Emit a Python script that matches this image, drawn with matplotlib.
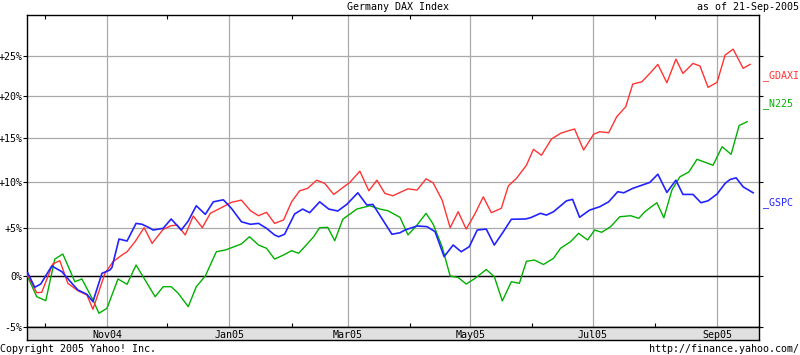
import matplotlib
matplotlib.use('Agg')
import matplotlib.pyplot as plt
import matplotlib.dates as mdates
import matplotlib.ticker as mticker
import numpy as np
import pandas as pd


# first day of the window, all series are % change from here
start = pd.Timestamp('2004-09-21')

# _GDAXI (red): days since start, % change
gdaxi_day = [1.5, 6, 8.5, 14, 17.5, 21.5, 26.5, 31, 34, 40, 44, 48.5, 51, 55, 59.5, 63.5,
             69, 73, 76, 80, 84, 88.5, 92.5, 98, 103, 108, 112.5, 116.5, 120.5, 124.5,
             129, 133, 137, 141, 145.5, 149.5, 154, 158, 162, 167, 171.5, 175.5, 179.5,
             183.5, 187, 191, 195.5, 200, 203.5, 208, 212, 216, 220, 224.5, 228.5, 232.5,
             237.5, 241, 245, 250, 253.5, 257.5, 262.5, 267, 271, 274, 278.5, 283.5,
             286.5, 291, 295, 299.5, 303, 307.5, 311.5, 315.5, 320, 324.5, 328, 333,
             336.5, 340.5, 345, 349, 353, 358, 361.5]
gdaxi_pct = [0.10, -1.68, -1.64, 1.23, 1.56, -0.74, -1.48, -1.91, -3.32, 0.27, 1.46, 2.15,
             2.49, 3.54, 5.02, 3.36, 4.84, 5.23, 5.30, 4.25, 6.27, 5.02, 6.56, 7.17, 7.75,
             8.00, 6.84, 6.30, 6.67, 5.48, 5.84, 7.81, 9.02, 9.29, 10.2, 9.84, 8.62, 9.29,
             9.95, 11.21, 9.02, 10.2, 8.73, 8.47, 8.84, 9.24, 9.10, 10.35, 9.91, 8.00, 5.02,
             6.73, 4.87, 6.56, 8.36, 6.63, 7.10, 9.57, 10.39, 11.88, 13.7, 13.02, 14.90,
             15.56, 15.87, 16.07, 13.62, 15.45, 15.75, 15.63, 17.52, 18.72, 21.48, 21.76,
             22.80, 23.93, 21.64, 24.59, 22.80, 24.05, 23.72, 21.08, 21.69, 25.10, 25.86,
             23.43, 23.93]

# _N225 (green)
n225_day = [1.5, 6, 10.5, 15, 19, 25, 28.5, 34, 37, 41, 46.5, 51, 55.5, 60, 65, 69, 73,
            76.5, 81.5, 85.5, 90, 95.5, 100, 108, 112, 116.5, 120.5, 124.5, 129, 133,
            136.5, 139.5, 144, 147, 151, 154.5, 158.5, 165.5, 172, 177, 181, 187, 191,
            195.5, 200, 203.5, 208, 212, 216, 220, 224.5, 230, 234, 238, 242.5, 246.5,
            250, 254, 258.5, 263.5, 267, 272, 276, 280.5, 284, 287.5, 292, 296.5, 302,
            306, 309, 315, 318.5, 322.5, 326.5, 331, 335, 343, 347.5, 352, 356, 360]
n225_pct = [-0.07, -2.08, -2.47, 1.73, 2.25, -0.58, -0.30, -2.40, -3.71, -3.22, -0.30,
            -0.84, 1.12, -0.41, -2.08, -1.08, -1.08, -1.74, -3.06, -1.08, 0.0, 2.49, 2.67,
            3.30, 4.06, 3.19, 2.85, 1.73, 2.15, 2.60, 2.33, 3.01, 4.06, 5.02, 5.06, 3.64,
            5.92, 7.02, 7.38, 7.02, 6.84, 6.13, 4.25, 5.30, 6.56, 5.41, 3.01, 0.0, -0.15,
            -0.81, -0.23, 0.66, -0.07, -2.50, -0.58, -0.74, 1.50, 1.63, 1.17, 1.81, 2.85,
            3.54, 4.42, 3.72, 4.77, 4.53, 5.13, 6.19, 6.30, 6.02, 6.73, 7.71, 6.08, 9.10,
            10.58, 11.13, 12.56, 11.88, 14.0, 13.13, 16.48, 16.93]

# _GSPC (blue)
gspc_day = [1.5, 5, 8, 13.5, 18.5, 23.5, 26.5, 31, 34, 38.5, 42.5, 43.5, 47, 51, 55.5,
            58.5, 62, 64, 69, 73, 78, 81.5, 85.5, 90, 94, 99, 103, 108, 112.5, 116.5,
            120.5, 124.5, 126.5, 129.5, 134.5, 138.5, 142, 147, 151.5, 156, 160.5, 166,
            170.5, 173.5, 183, 187, 189.5, 195.5, 200.5, 204.5, 209, 213.5, 217.5, 221.5,
            225.5, 230, 234, 238.5, 242.5, 249.5, 252, 257, 260, 263.5, 270, 273, 276.5,
            281.5, 286.5, 291, 295.5, 298.5, 303, 311.5, 315.5, 320, 324.5, 328, 333, 337,
            340.5, 345, 349, 351.5, 354.5, 358, 363]
gspc_pct = [0.33, -1.14, -0.81, 1.02, 0.44, -0.74, -1.41, -1.84, -2.57, 0.27, 0.61, 0.88,
            3.82, 3.61, 5.48, 5.38, 5.02, 4.77, 4.95, 5.95, 4.77, 5.73, 7.38, 6.45, 7.81,
            8.03, 7.10, 5.65, 5.38, 5.48, 4.95, 4.25, 4.06, 4.32, 6.49, 7.02, 6.63, 7.81,
            7.02, 6.81, 7.53, 8.80, 7.46, 7.53, 4.32, 4.48, 4.77, 5.20, 5.13, 4.59, 1.98,
            3.19, 2.49, 3.01, 4.77, 4.87, 3.19, 4.59, 5.92, 5.95, 6.08, 6.56, 6.37, 6.73,
            7.92, 8.08, 6.13, 6.91, 7.27, 7.81, 8.92, 8.80, 9.29, 9.95, 10.87, 8.84, 10.2,
            8.62, 8.62, 7.71, 7.92, 8.66, 9.84, 10.28, 10.46, 9.46, 8.80]

ytick_pct = [-5, 0, 5, 10, 15, 20, 25]
ytick_labels = ['-5%', '0%', '+5%', '+10%', '+15%', '+20%', '+25%']
month_labels = ['Nov04', 'Jan05', 'Mar05', 'May05', 'Jul05', 'Sep05']
month_dates = pd.to_datetime(['2004-11-01', '2005-01-01', '2005-03-01',
                              '2005-05-01', '2005-07-01', '2005-09-01'])

FONT = 'DejaVu Sans Mono'
FS = 7.2
plt.rcParams['font.family'] = FONT
plt.rcParams['font.size'] = FS


def to_dates(days):
    return start + pd.to_timedelta(np.array(days), unit='D')


def to_ratio(pct):
    return 1 + np.array(pct) / 100.0


W, H = 800, 355
fig = plt.figure(figsize=(W / 100, H / 100), dpi=100)
fig.patch.set_facecolor('white')

# main plot area
ax = fig.add_axes([27 / W, (H - 327) / H, 732 / W, 312 / H])
ax.set_yscale('log')

x0 = start + pd.Timedelta(days=1.15)
x1 = start + pd.Timedelta(days=365.9)
ax.set_xlim(x0, x1)
ax.set_ylim(0.9496, 1.3029)

ax.plot(to_dates(n225_day), to_ratio(n225_pct), color='#00b000', lw=1.0, zorder=3)
ax.plot(to_dates(gdaxi_day), to_ratio(gdaxi_pct), color='#ff3333', lw=1.0, zorder=4)
ax.plot(to_dates(gspc_day), to_ratio(gspc_pct), color='#2323ff', lw=1.2, zorder=5)

ax.axhline(1.0, color='black', lw=1.0, zorder=2)

# y axis
ax.yaxis.set_major_locator(mticker.FixedLocator(to_ratio(ytick_pct)))
ax.yaxis.set_major_formatter(mticker.FixedFormatter(ytick_labels))
ax.yaxis.set_minor_locator(mticker.NullLocator())
ax.tick_params(axis='y', which='major', direction='out', length=2.6, width=0.8,
               left=True, right=True, labelleft=True, labelright=False,
               pad=0.5, labelsize=FS)

# x axis: gridlines on odd months, small inward ticks on even months
ax.xaxis.set_major_locator(mdates.MonthLocator(bymonth=[1, 3, 5, 7, 9, 11]))
ax.xaxis.set_minor_locator(mdates.MonthLocator(bymonth=[2, 4, 6, 8, 10, 12]))
ax.tick_params(axis='x', which='major', length=0, labelbottom=False)
ax.tick_params(axis='x', which='minor', direction='in', length=2.6, width=0.8,
               top=True, bottom=True, labelbottom=False)

ax.grid(True, which='major', color='#aaaaaa', lw=0.9, zorder=1)
for s in ax.spines.values():
    s.set_linewidth(1.0)
    s.set_color('black')

# grey date band under the plot
band = fig.add_axes([27 / W, (H - 340) / H, 732 / W, 13 / H])
band.set_facecolor('#e0e0e0')
band.set_xlim(x0, x1)
band.set_ylim(0, 1)
band.set_xticks([])
band.set_yticks([])
for s in band.spines.values():
    s.set_linewidth(1.0)
for d, lab in zip(month_dates, month_labels):
    band.text(d, 0.42, lab, ha='center', va='center', fontsize=FS)

# series names on the right
fig.text(763 / W, 1 - 76 / H, '_GDAXI', color='#ff3333', ha='left', va='center', fontsize=FS)
fig.text(763 / W, 1 - 104 / H, '_N225', color='#00b000', ha='left', va='center', fontsize=FS)
fig.text(763 / W, 1 - 203 / H, '_GSPC', color='#2323ff', ha='left', va='center', fontsize=FS)

# header and footer
fig.text(398 / W, 1 - 7 / H, 'Germany DAX Index', ha='center', va='center', fontsize=FS)
fig.text(799 / W, 1 - 7 / H, 'as of 21-Sep-2005', ha='right', va='center', fontsize=FS)
fig.text(0.5 / W, 1 - 349 / H, 'Copyright 2005 Yahoo! Inc.', ha='left', va='center', fontsize=FS)
fig.text(799 / W, 1 - 349 / H, 'http://finance.yahoo.com/', ha='right', va='center', fontsize=FS)

fig.savefig('out.png', dpi=100)
